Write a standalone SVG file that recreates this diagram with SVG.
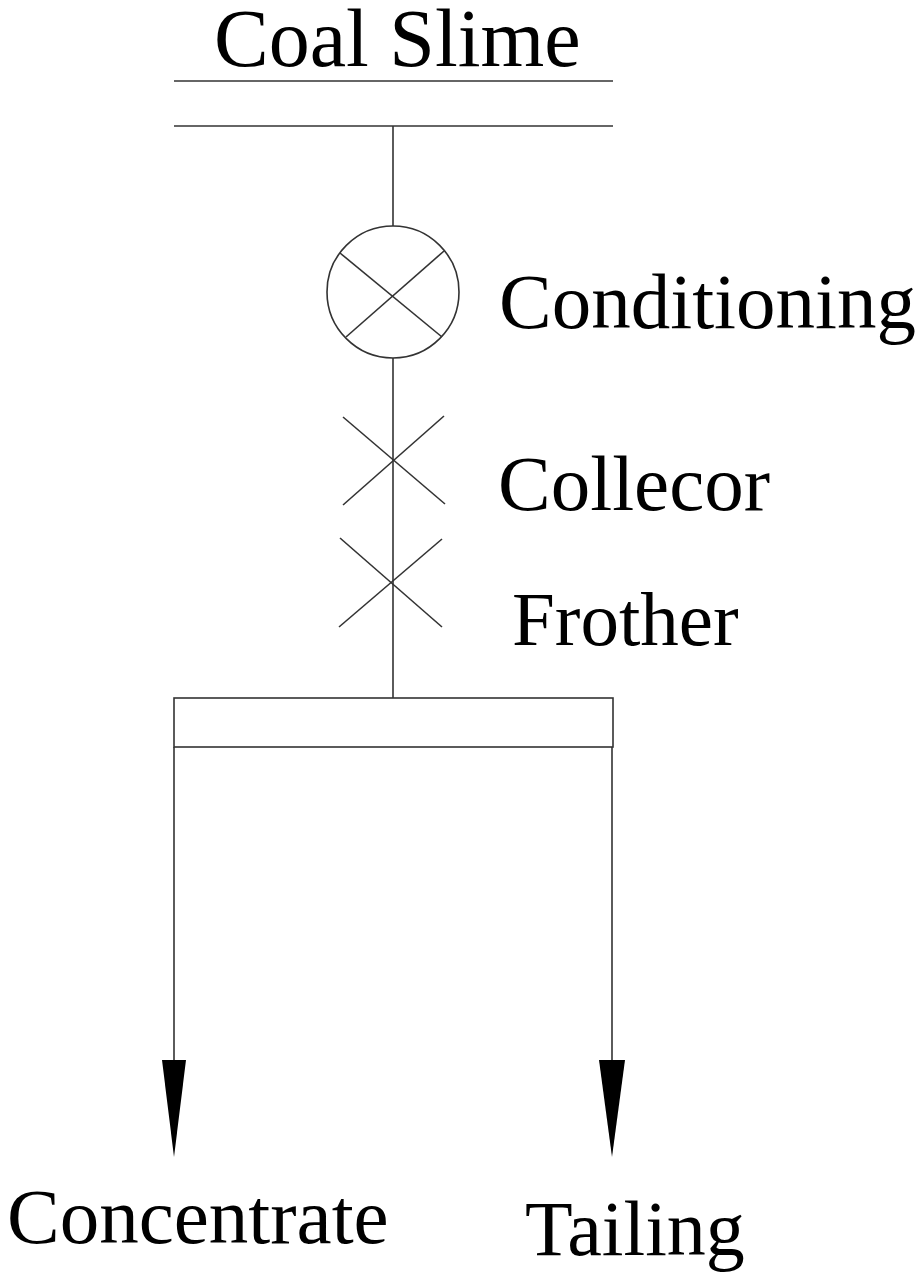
<svg xmlns="http://www.w3.org/2000/svg" width="922" height="1281" viewBox="0 0 922 1281">
<style>
.ln{stroke:#333;stroke-width:1.6;fill:none}
.tx{font-family:"Liberation Serif","Times New Roman",serif;fill:#000}
.ah{fill:#000}
</style>
<rect width="922" height="1281" fill="#fff"/>
<g id="coal-slime">
<text class="tx" x="214" y="66" font-size="82">Coal Slime</text>
<line class="ln" x1="174" y1="81" x2="613" y2="81"/>
<line class="ln" x1="174" y1="126" x2="613" y2="126"/>
</g>
<g id="conditioning">
<circle class="ln" cx="393" cy="292" r="66"/>
<line class="ln" x1="340" y1="253" x2="442" y2="337"/>
<line class="ln" x1="444" y1="251" x2="346" y2="337"/>
<text class="tx" x="499" y="328" font-size="79">Conditioning</text>
</g>
<g id="collector">
<line class="ln" x1="343" y1="417" x2="445" y2="504"/>
<line class="ln" x1="444" y1="416" x2="343" y2="505"/>
<text class="tx" x="498" y="510" font-size="79">Collecor</text>
</g>
<g id="frother">
<line class="ln" x1="340" y1="538" x2="442" y2="627"/>
<line class="ln" x1="442" y1="539" x2="339" y2="627"/>
<text class="tx" x="512" y="645" font-size="77">Frother</text>
</g>
<g id="flotation">
<rect class="ln" x="174" y="698" width="439" height="49"/>
</g>
<g id="concentrate">
<polygon class="ah" points="162,1060 186,1060 174,1157"/>
<text class="tx" x="7" y="1243" font-size="79">Concentrate</text>
</g>
<g id="tailing">
<polygon class="ah" points="599,1060 625,1060 612,1157"/>
<text class="tx" x="525" y="1255" font-size="78">Tailing</text>
</g>
<g id="connectors">
<line class="ln" x1="393" y1="126" x2="393" y2="226"/>
<line class="ln" x1="393" y1="358" x2="393" y2="698"/>
<line class="ln" x1="174" y1="747" x2="174" y2="1060"/>
<line class="ln" x1="612" y1="747" x2="612" y2="1060"/>
</g>
</svg>
